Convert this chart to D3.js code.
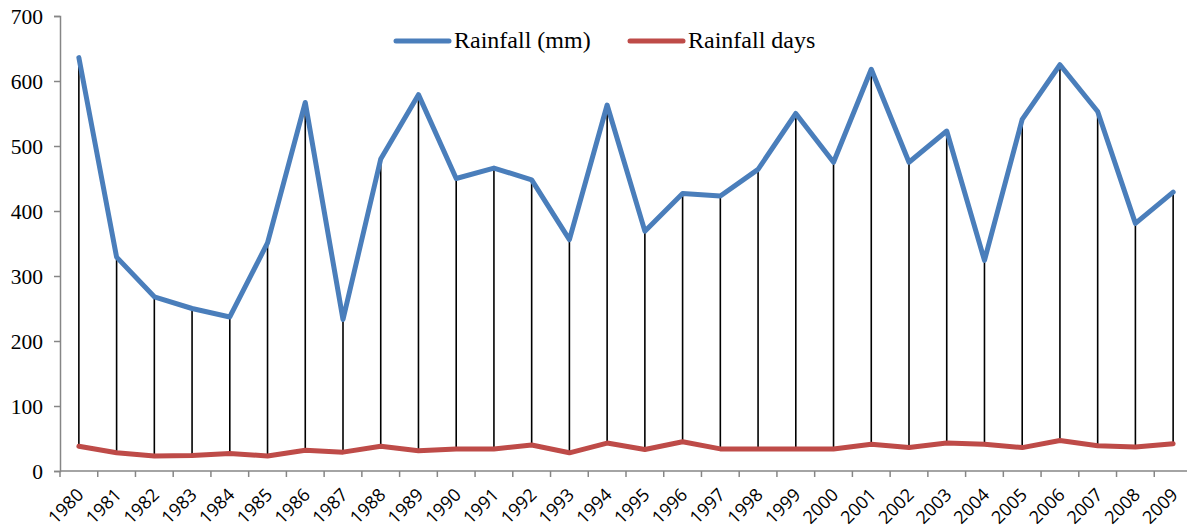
<!DOCTYPE html>
<html>
<head>
<meta charset="utf-8">
<script src="https://cdn.jsdelivr.net/npm/d3@7"></script>
<style>
  html, body { margin: 0; padding: 0; background: #fff; }
  svg { display: block; }
  .serif { font-family: "Liberation Serif", "DejaVu Serif", "Times New Roman", serif; }
  .sans { font-family: "Open Sans", "Liberation Sans", Arial, sans-serif; }
</style>
</head>
<body>
<svg id="chart" width="1187" height="531"></svg>
<script>
const years = ["1980","1981","1982","1983","1984","1985","1986","1987","1988","1989",
  "1990","1991","1992","1993","1994","1995","1996","1997","1998","1999",
  "2000","2001","2002","2003","2004","2005","2006","2007","2008","2009"];
const rainfall = [636,329,268,250,237,351,567,233,480,579,
  450,466,448,356,563,369,427,423,464,550,
  475,618,475,523,324,541,625,553,381,429];
const rainDays = [38,28,23,24,27,23,32,29,38,31,
  34,34,40,28,43,33,45,34,34,34,
  34,41,36,43,41,36,47,39,37,42];
const yTicks = [0,100,200,300,400,500,600,700];
const seriesNames = ["Rainfall (mm)", "Rainfall days"];
const seriesColors = ["#4A7EBB", "#BE4B48"];

(function () {
const svg = d3.select("#chart");
const mLeft = 60, mRight = 1192, mTop = 16, mBottom = 471;

const x = d3.scaleBand().domain(years).range([mLeft, mRight]).paddingInner(0).paddingOuter(0);
const y = d3.scaleLinear().domain([0, 700]).range([mBottom, mTop]);
const cx = d => x(d) + x.bandwidth() / 2;

// Y axis
const yAxis = svg.append("g").attr("transform", `translate(${mLeft},0)`)
  .call(d3.axisLeft(y).tickValues(yTicks).tickSize(6).tickPadding(11).tickFormat(d3.format("d")));
yAxis.attr("font-family", null).attr("font-size", null);
yAxis.select(".domain").attr("stroke", "#868686").attr("stroke-width", 1.5);
yAxis.selectAll(".tick line").attr("stroke", "#868686").attr("stroke-width", 1.5);
yAxis.selectAll("text").attr("class", "serif")
  .style("font-size", "21.5px").attr("fill", "#000").attr("dy", "0.34em");

// X axis with ticks between categories
const xAxisG = svg.append("g").attr("transform", `translate(0,${mBottom})`);
xAxisG.append("line").attr("x1", mLeft).attr("x2", mRight).attr("y1", 0).attr("y2", 0)
  .attr("stroke", "#868686").attr("stroke-width", 1.5);
const boundaries = years.map(d => x(d)).concat([mRight]);
xAxisG.selectAll("line.tk").data(boundaries).enter().append("line").attr("class", "tk")
  .attr("x1", d => d).attr("x2", d => d).attr("y1", 0).attr("y2", 6)
  .attr("stroke", "#868686").attr("stroke-width", 1.5);
xAxisG.selectAll("text").data(years).enter().append("text")
  .attr("class", "sans")
  .attr("transform", d => `translate(${cx(d) + 6},${25}) rotate(-45)`)
  .attr("text-anchor", "end")
  .style("font-size", "18px")
  .attr("fill", "#000")
  .text(d => d);

// High-low drop lines
svg.append("g").selectAll("line").data(years).enter().append("line")
  .attr("x1", d => cx(d)).attr("x2", d => cx(d))
  .attr("y1", (d, i) => y(rainfall[i])).attr("y2", (d, i) => y(rainDays[i]))
  .attr("stroke", "#000").attr("stroke-width", 1.6);

// Lines
const line = d3.line().x(d => cx(d[0])).y(d => y(d[1]));
[rainfall, rainDays].forEach((vals, si) => {
  svg.append("path")
    .datum(years.map((yr, i) => [yr, vals[i]]))
    .attr("d", line)
    .attr("fill", "none")
    .attr("stroke", seriesColors[si])
    .attr("stroke-width", 5)
    .attr("stroke-linejoin", "round")
    .attr("stroke-linecap", "round");
});

// Legend
const legendItems = [{x: 396, tx: 454}, {x: 630, tx: 688}];
legendItems.forEach((it, i) => {
  svg.append("line").attr("x1", it.x).attr("x2", it.x + 53).attr("y1", 41).attr("y2", 41)
    .attr("stroke", seriesColors[i]).attr("stroke-width", 5).attr("stroke-linecap", "round");
  svg.append("text").attr("class", "serif").attr("x", it.tx).attr("y", 48)
    .style("font-size", "24px").attr("fill", "#000")
    .text(seriesNames[i]);
});
})();
</script>
</body>
</html>
